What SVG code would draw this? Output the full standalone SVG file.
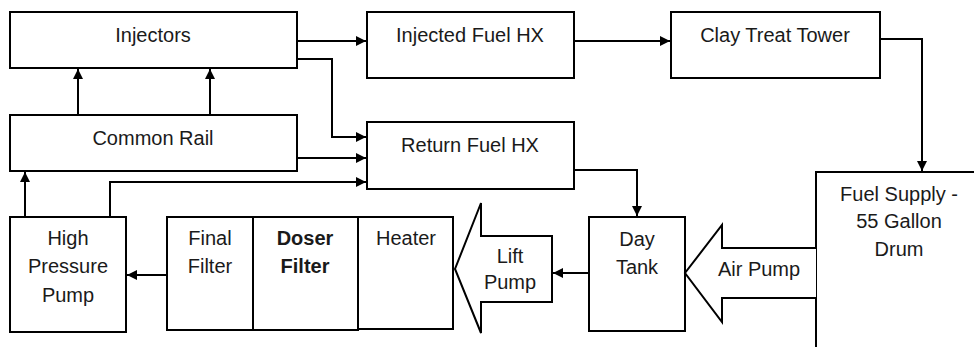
<svg xmlns="http://www.w3.org/2000/svg" width="974" height="347" viewBox="0 0 974 347">
<style>
.box{fill:#fff;stroke:#000;stroke-width:2}
.t{font-family:"Liberation Sans",Arial,sans-serif;font-size:20px;fill:#1a1a1a;text-anchor:middle}
.b{font-weight:bold}
.c{fill:none;stroke:#000;stroke-width:2}
</style>
<defs>
<marker id="ah" viewBox="0 0 10 10" refX="10" refY="5" markerWidth="10" markerHeight="10" markerUnits="userSpaceOnUse" orient="auto">
<path d="M0,0 L10,5 L0,10 Z" fill="#000"/>
</marker>
</defs>
<rect width="974" height="347" fill="#fff"/>
<g id="injectors"><rect class="box" x="10" y="12" width="287" height="56"/><text class="t" x="153" y="42">Injectors</text></g>
<g id="common-rail"><rect class="box" x="10" y="115" width="287" height="56"/><text class="t" x="153" y="145">Common Rail</text></g>
<g id="injected-hx"><rect class="box" x="367" y="12" width="207" height="66"/><text class="t" x="470" y="42">Injected Fuel HX</text></g>
<g id="return-hx"><rect class="box" x="367" y="122" width="207" height="67"/><text class="t" x="470" y="152">Return Fuel HX</text></g>
<g id="clay-tower"><rect class="box" x="671" y="12" width="209" height="66"/><text class="t" x="775" y="42">Clay Treat Tower</text></g>
<g id="fuel-supply"><rect class="box" x="816" y="172" width="200" height="200"/><text class="t" x="899" y="201">Fuel Supply -</text><text class="t" x="899" y="228">55 Gallon</text><text class="t" x="899" y="256">Drum</text></g>
<g id="day-tank"><rect class="box" x="589" y="217" width="96" height="114"/><text class="t" x="637" y="246">Day</text><text class="t" x="637" y="274">Tank</text></g>
<g id="air-pump"><path class="box" d="M816,248 L722,248 L722,225 L685,273 L722,322 L722,298 L816,298"/><text class="t" x="759" y="276">Air Pump</text></g>
<g id="lift-pump"><path class="box" d="M552,236 L481,236 L481,203 L455,269 L481,333 L481,302 L552,302 Z"/><text class="t" x="510" y="263">Lift</text><text class="t" x="510" y="289">Pump</text></g>
<g id="heater"><rect class="box" x="358" y="217" width="95" height="112"/><text class="t" x="406" y="245">Heater</text></g>
<g id="doser-filter"><rect class="box" x="253" y="217" width="105" height="113"/><text class="t b" x="305" y="245">Doser</text><text class="t b" x="305" y="273">Filter</text></g>
<g id="final-filter"><rect class="box" x="167" y="217" width="86" height="113"/><text class="t" x="210" y="245">Final</text><text class="t" x="210" y="273">Filter</text></g>
<g id="hp-pump"><rect class="box" x="10" y="217" width="116" height="115"/><text class="t" x="68" y="245">High</text><text class="t" x="68" y="273">Pressure</text><text class="t" x="68" y="302">Pump</text></g>
<g id="connectors">
<path class="c" d="M78,115 L78,69" marker-end="url(#ah)"/>
<path class="c" d="M210,115 L210,69" marker-end="url(#ah)"/>
<path class="c" d="M297,41 L366,41" marker-end="url(#ah)"/>
<path class="c" d="M297,59 L332,59 L332,137 L366,137" marker-end="url(#ah)"/>
<path class="c" d="M297,158 L366,158" marker-end="url(#ah)"/>
<path class="c" d="M110,217 L110,182 L366,182" marker-end="url(#ah)"/>
<path class="c" d="M25,217 L25,172" marker-end="url(#ah)"/>
<path class="c" d="M574,41 L670,41" marker-end="url(#ah)"/>
<path class="c" d="M880,39 L922,39 L922,171" marker-end="url(#ah)"/>
<path class="c" d="M574,170 L637,170 L637,216" marker-end="url(#ah)"/>
<path class="c" d="M589,273 L553,273" marker-end="url(#ah)"/>
<path class="c" d="M167,275 L127,275" marker-end="url(#ah)"/>
</g>
</svg>
